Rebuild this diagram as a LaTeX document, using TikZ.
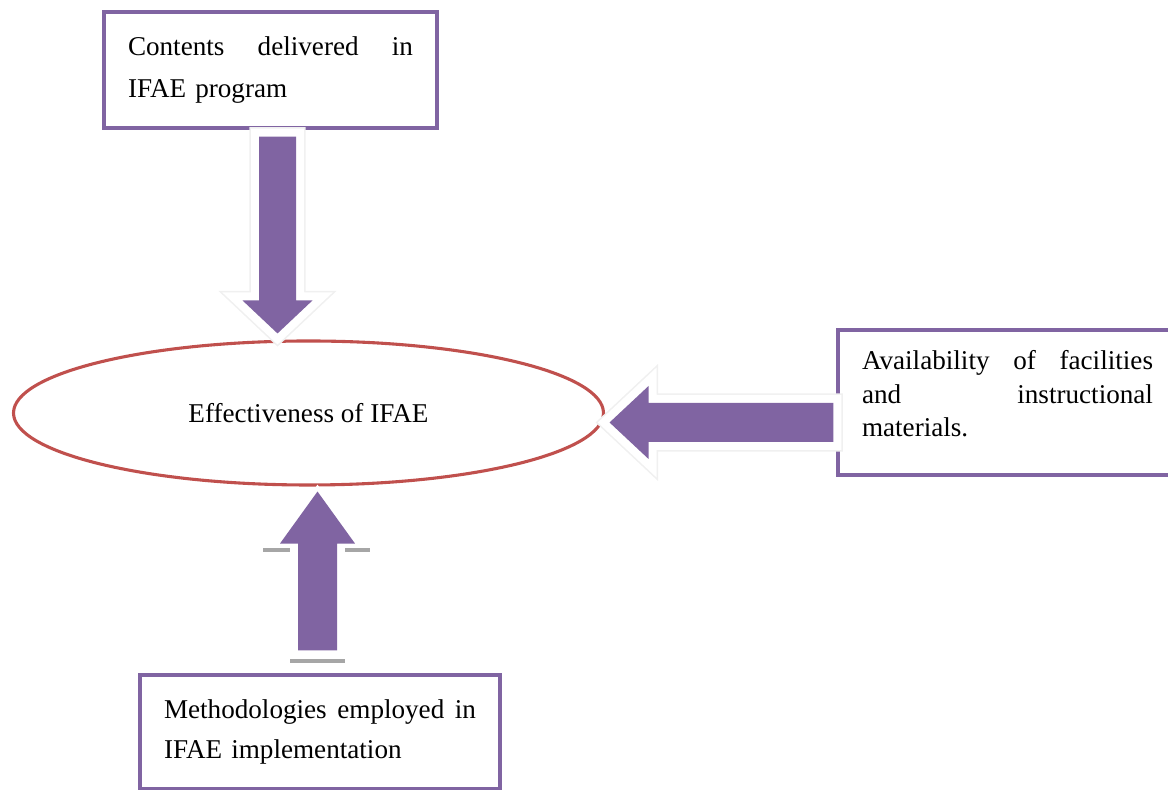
\documentclass[tikz,border=0pt]{standalone}
\usepackage{fontspec}
\setmainfont{Liberation Serif}
\usetikzlibrary{positioning,shapes.geometric,calc}
\definecolor{ifaepurple}{HTML}{8064A2}
\definecolor{ifaered}{HTML}{C0504D}
\newcommand{\jfill}{\hskip 0pt plus 1fill\relax}
% style, from, to, shaft half width, head half width, head length
\newcommand{\fatarrow}[6]{%
  \coordinate (hb) at ($(#3)!#6!(#2)$);
  \fill[#1] ($(#2)!#4!90:(#3)$) -- ($(hb)!#4!90:(#3)$) -- ($(hb)!#5!90:(#3)$)
    -- (#3) -- ($(hb)!#5!-90:(#3)$) -- ($(hb)!#4!-90:(#3)$) -- ($(#2)!#4!-90:(#3)$) -- cycle;
}

\begin{document}
\begin{tikzpicture}[
    factor/.style = {
        rectangle,
        draw=ifaepurple,
        line width=2.3pt,
        fill=white,
        align=left,
        inner xsep=0.6cm,
        inner ysep=0pt
    },
    outcome/.style = {
        ellipse,
        draw=ifaered,
        line width=2.2pt,
        inner sep=0pt,
        minimum width=14.75cm,
        minimum height=3.6cm,
        font=\fontsize{19.3}{23}\selectfont
    },
    fatarrow/.style = {fill=ifaepurple,
        preaction={draw=black!6, line width=0.48cm, line join=miter},
        preaction={draw=white, line width=0.4cm, line join=miter}},
    slimarrow/.style = {fill=ifaepurple,
        preaction={draw=white, line width=0.2cm, line join=miter}},
    shadowline/.style = {draw=black!35, line width=0.1cm}
]
\useasboundingbox (0,0) rectangle (29.2,19.75);

\node[factor, text width=7.125cm, minimum height=2.9cm, font=\fontsize{19.3}{29.8}\selectfont]
    (contents) at (6.7625,18.0) {Contents\jfill delivered\jfill in\\ IFAE program};

\node[outcome] (effect) at (7.7125,9.425) {Effectiveness of IFAE};

\node[factor, text width=7.275cm, minimum height=3.625cm, font=\fontsize{19.3}{24}\selectfont]
    (avail) at (25.1875,9.6875) {Availability\jfill of\jfill facilities\\ and\jfill instructional\\ materials.\rule[-0.45cm]{0pt}{0pt}};

\node[factor, text width=7.8cm, minimum height=2.85cm, font=\fontsize{19.3}{28.3}\selectfont]
    (method) at (8.0,1.45) {Methodologies\jfill employed\jfill in\\ IFAE implementation};

% arrow end points
\coordinate (c1) at ([xshift=0.175cm,yshift=-0.175cm]contents.south);
\coordinate (c2) at ([yshift=0.15cm]effect.north -| c1);
\coordinate (c3) at ([xshift=-0.075cm,yshift=-0.5cm]avail.west);
\coordinate (c4) at ([xshift=0.1125cm]effect.east |- c3);
\coordinate (c5) at ([xshift=-0.0625cm,yshift=0.575cm]method.north);
\coordinate (c6) at ([yshift=-0.125cm]effect.south -| c5);

\draw[shadowline] ($(c5)+(-0.6875,-0.275)$) -- ($(c5)+(0.6875,-0.275)$);
\draw[shadowline] ($(c5)+(-1.3625,2.5)$) -- ($(c5)+(-0.6875,2.5)$);
\draw[shadowline] ($(c5)+(0.6875,2.5)$) -- ($(c5)+(1.3125,2.5)$);

\fatarrow{fatarrow}{c1}{c2}{0.4625cm}{0.875cm}{0.825cm}
\fatarrow{fatarrow}{c3}{c4}{0.4875cm}{0.9125cm}{0.975cm}
\fatarrow{slimarrow}{c5}{c6}{0.4875cm}{0.9375cm}{1.3cm}

\end{tikzpicture}
\end{document}
